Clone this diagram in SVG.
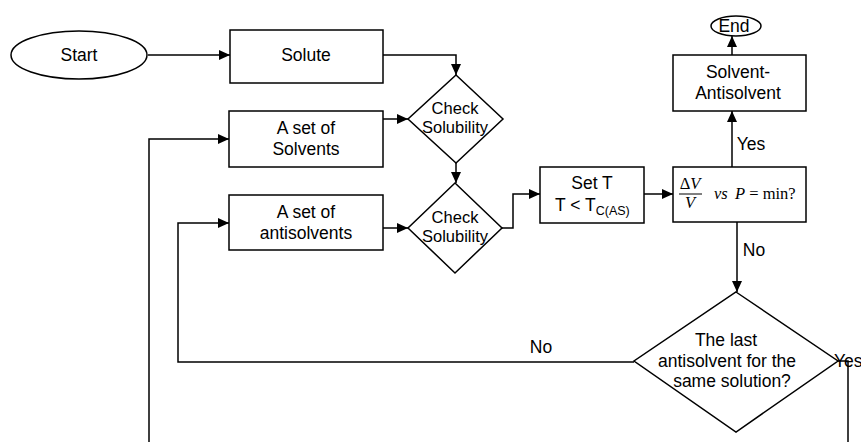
<svg xmlns="http://www.w3.org/2000/svg" width="861" height="442" viewBox="0 0 861 442">
<style>
.s{fill:#fff;stroke:#000;stroke-width:1.5}
.t{font-family:"Liberation Sans",Arial,sans-serif;font-size:17.5px;fill:#000;text-anchor:middle}
.d{font-size:16.5px}
.m{font-family:"Liberation Serif","Times New Roman",serif;font-size:16.5px;fill:#000}
.c{fill:none;stroke:#000;stroke-width:1.5}
</style>
<defs>
<marker id="a" markerUnits="userSpaceOnUse" markerWidth="12" markerHeight="10" refX="11" refY="5" orient="auto">
<path d="M0,0 L11,5 L0,10 z" fill="#000"/>
</marker>
</defs>
<g id="connectors">
<path class="c" d="M148,55 H230" marker-end="url(#a)"/>
<path class="c" d="M383,55 H456 V75" marker-end="url(#a)"/>
<path class="c" d="M383,119 H408" marker-end="url(#a)"/>
<path class="c" d="M456,163 V183" marker-end="url(#a)"/>
<path class="c" d="M383,228 H408" marker-end="url(#a)"/>
<path class="c" d="M502,228 H513 V194 H540" marker-end="url(#a)"/>
<path class="c" d="M644,194 H673" marker-end="url(#a)"/>
<path class="c" d="M732,167 V111" marker-end="url(#a)"/>
<path class="c" d="M732,55 V36" marker-end="url(#a)"/>
<path class="c" d="M737,222 V292" marker-end="url(#a)"/>
<path class="c" d="M634,362 H178 V223 H229" marker-end="url(#a)"/>
<path class="c" d="M838,361 H848 V442"/>
<path class="c" d="M149,442 V139 H229" marker-end="url(#a)"/>
<text class="t" x="751" y="150">Yes</text>
<text class="t" x="754" y="256">No</text>
<text class="t" x="541" y="353">No</text>
<text class="t" x="834" y="367" style="text-anchor:start">Yes</text>
</g>
<g id="start">
<ellipse class="s" cx="79" cy="55" rx="68" ry="24"/>
<text class="t" x="79" y="61">Start</text>
</g>
<g id="solute">
<rect class="s" x="230" y="30" width="153" height="53"/>
<text class="t" x="306" y="61">Solute</text>
</g>
<g id="solvents">
<rect class="s" x="229" y="111" width="154" height="56"/>
<text class="t" x="306" y="134">A set of</text>
<text class="t" x="306" y="155">Solvents</text>
</g>
<g id="check1">
<polygon class="s" points="456,75 503,119 456,163 408,119"/>
<text class="t d" x="455" y="114">Check</text>
<text class="t d" x="455" y="133">Solubility</text>
</g>
<g id="antisolvents">
<rect class="s" x="229" y="195" width="154" height="55"/>
<text class="t" x="306" y="218">A set of</text>
<text class="t" x="306" y="239">antisolvents</text>
</g>
<g id="check2">
<polygon class="s" points="455,183 502,228 455,273 408,228"/>
<text class="t d" x="455" y="223">Check</text>
<text class="t d" x="455" y="242">Solubility</text>
</g>
<g id="setT">
<rect class="s" x="540" y="167" width="104" height="56"/>
<text class="t" x="592" y="189">Set T</text>
<text class="t" x="555" y="211" style="text-anchor:start">T &lt; T<tspan font-size="12.5" dy="4">C(AS)</tspan></text>
</g>
<g id="criterion">
<rect class="s" x="673" y="167" width="133" height="55"/>
<text class="m" x="690" y="189" text-anchor="middle">Δ<tspan font-style="italic">V</tspan></text>
<line x1="679" y1="194" x2="702" y2="194" stroke="#000" stroke-width="1"/>
<text class="m" x="690" y="208" text-anchor="middle" font-style="italic">V</text>
<text class="m" x="714" y="199"><tspan font-style="italic">vs</tspan><tspan x="735" font-style="italic">P</tspan> = min?</text>
</g>
<g id="solventAntisolvent">
<rect class="s" x="673" y="55" width="133" height="56"/>
<text class="t" x="738" y="78">Solvent-</text>
<text class="t" x="738" y="99">Antisolvent</text>
</g>
<g id="end">
<ellipse class="s" cx="736" cy="26" rx="25" ry="10"/>
<text class="t" x="734" y="32">End</text>
</g>
<g id="last">
<polygon class="s" points="736,292 838,361 736,432 634,361"/>
<text class="t" x="726" y="346">The last</text>
<text class="t" x="727" y="367">antisolvent for the</text>
<text class="t" x="732" y="387">same solution?</text>
</g>
</svg>
